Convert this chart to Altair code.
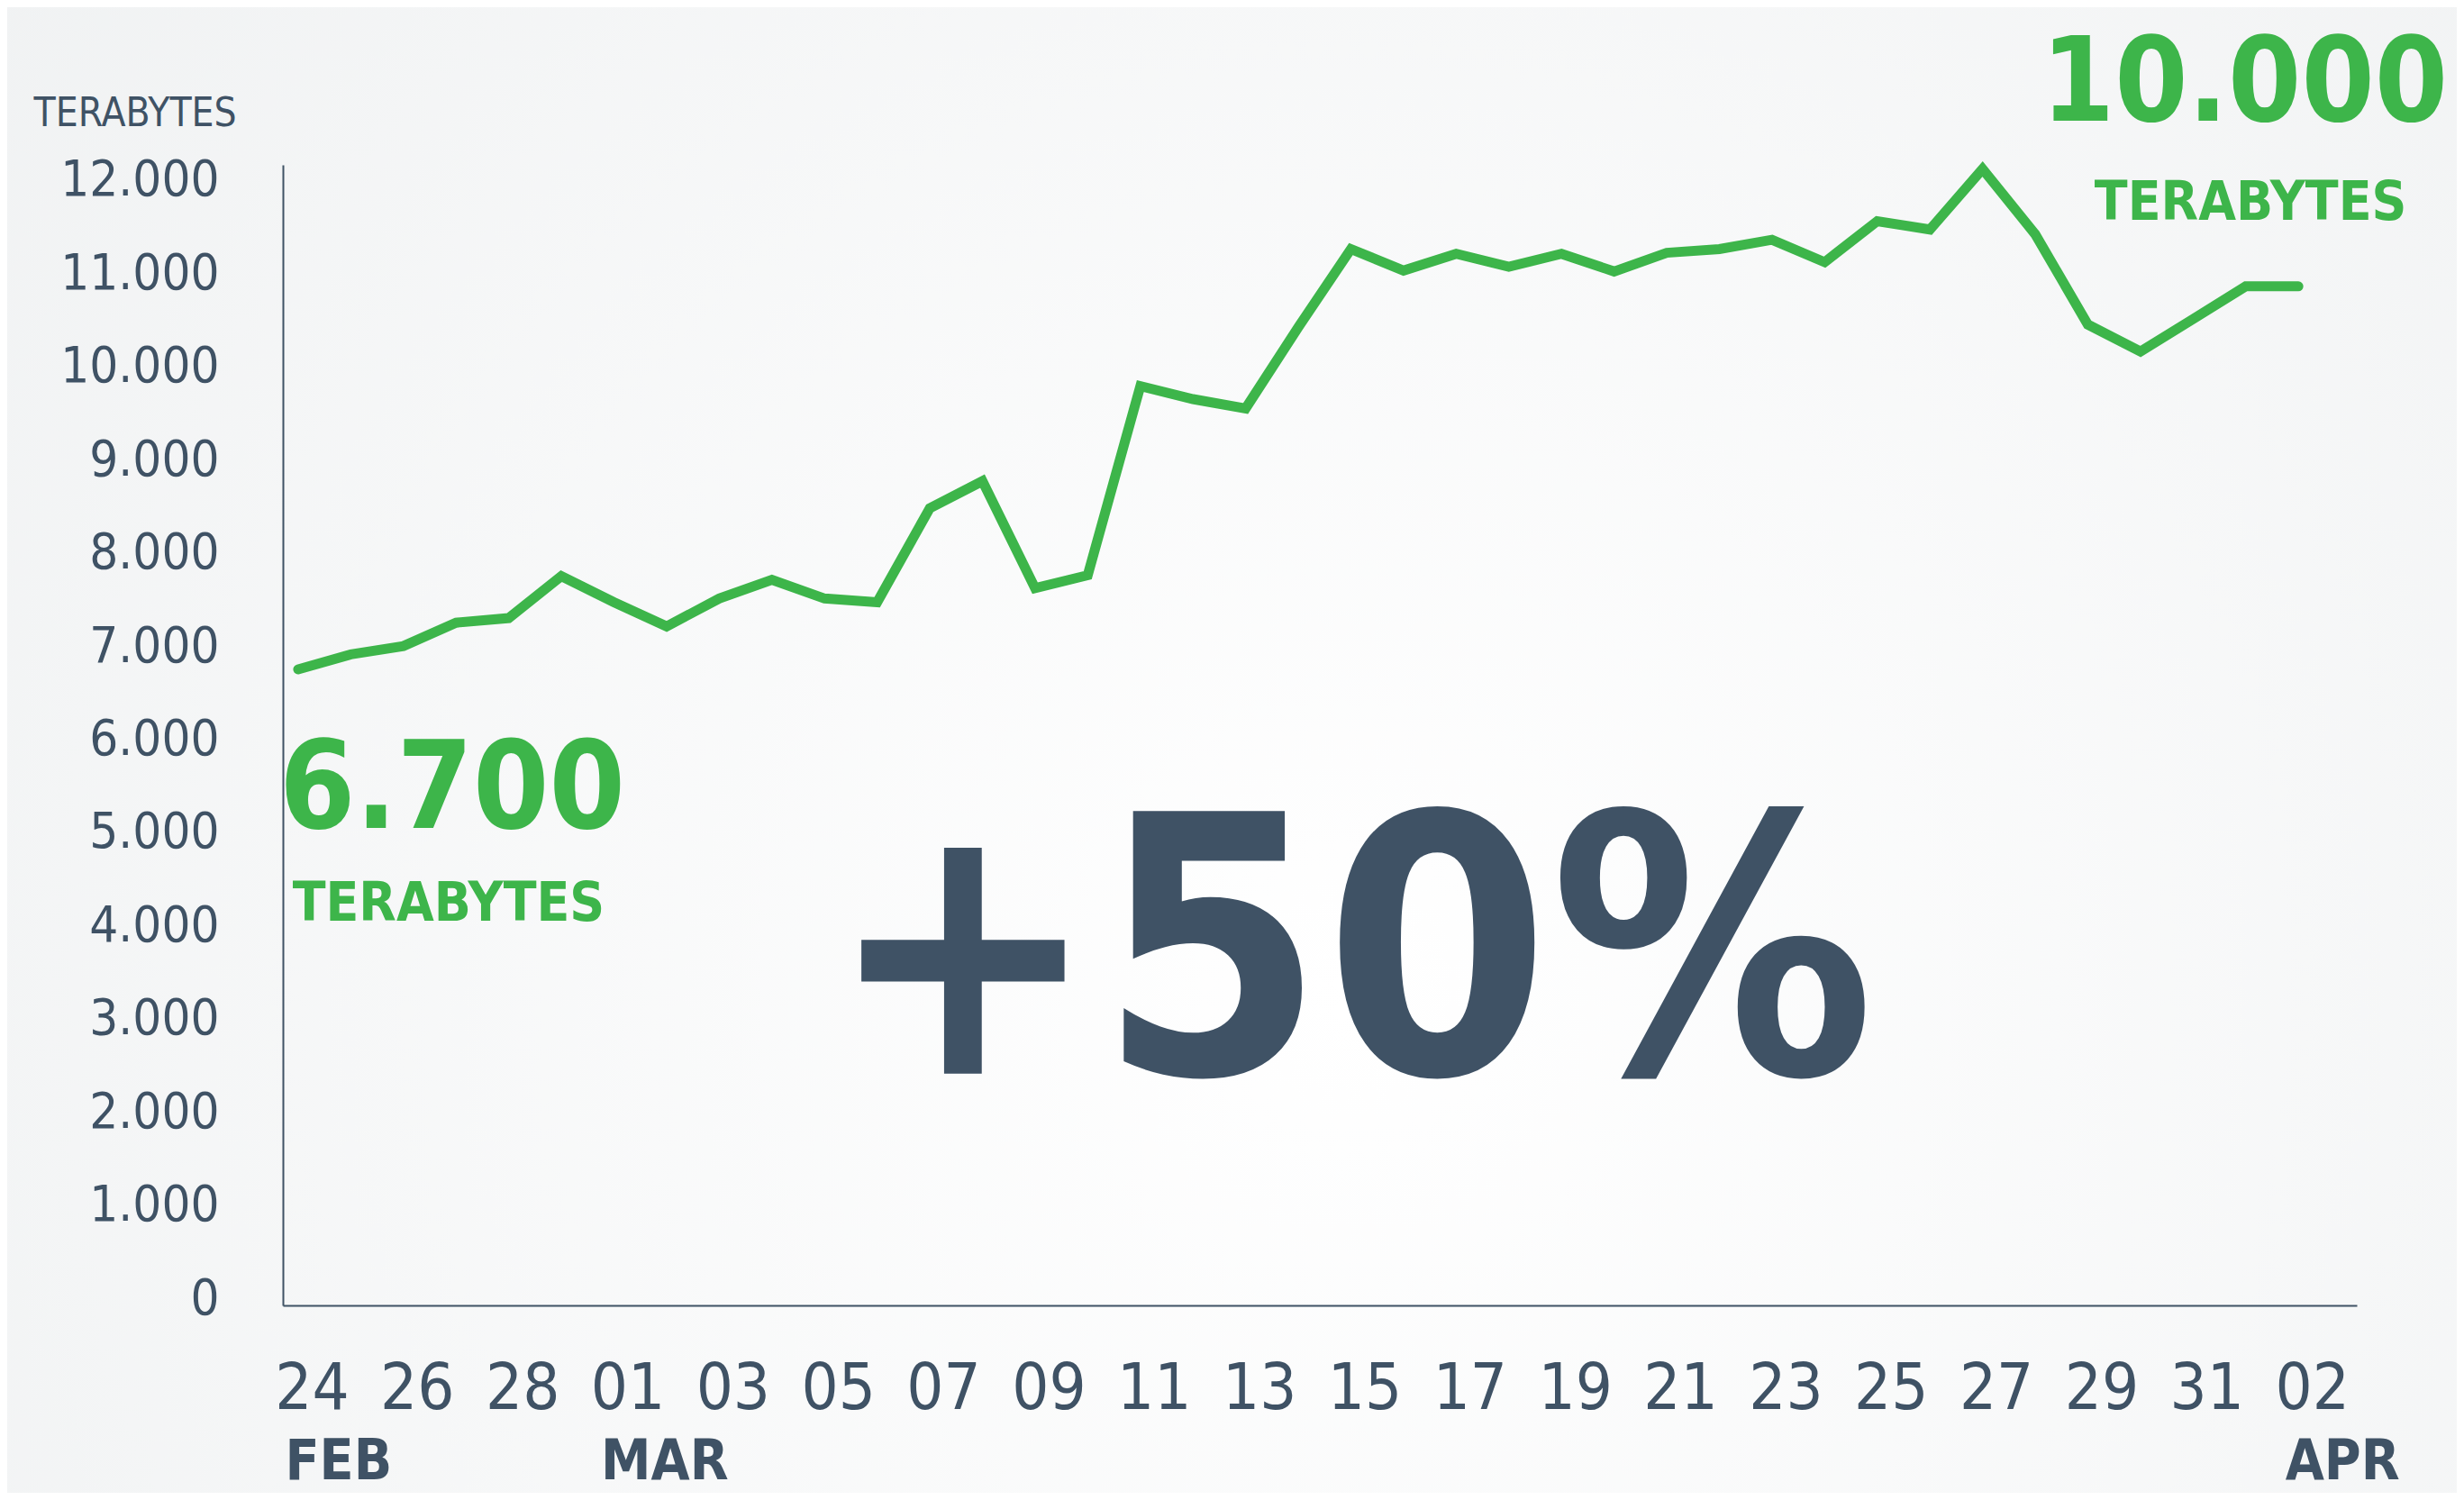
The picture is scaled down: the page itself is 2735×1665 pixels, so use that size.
import altair as alt
import pandas as pd

# ---------------- data ----------------
dates = pd.date_range("2020-02-24", "2020-04-02", freq="D").strftime("%Y-%m-%dT00:00:00").tolist()
values = [6750, 6910, 7000, 7250, 7300, 7750, 7470, 7210, 7510, 7710,
          7510, 7470, 8480, 8770, 7620, 7760, 9790, 9650, 9550, 10420,
          11260, 11030, 11210, 11070, 11210, 11020, 11220, 11260, 11360, 11120,
          11560, 11470, 12120, 11420, 10450, 10160, 10510, 10860, 10860]

day_ticks = [(2, 24), (2, 26), (2, 28), (3, 1), (3, 3), (3, 5), (3, 7), (3, 9),
             (3, 11), (3, 13), (3, 15), (3, 17), (3, 19), (3, 21), (3, 23),
             (3, 25), (3, 27), (3, 29), (3, 31), (4, 2)]
month_ticks = [(2, 24), (3, 1), (4, 2)]
y_ticks = [0, 1000, 2000, 3000, 4000, 5000, 6000, 7000, 8000, 9000, 10000, 11000, 12000]

ann_text = ["+50%", "6.700", "TERABYTES", "10.000", "TERABYTES"]
ann_date = ["2020-03-15T00:00:00", "2020-02-24T00:00:00", "2020-02-24T00:00:00",
            "2020-04-02T00:00:00", "2020-04-02T00:00:00"]
ann_value = [2410, 5050, 4050, 12640, 11570]

# ---------------- style ----------------
GREEN = "#3db54a"
SLATE = "#3f5265"
FONT = "'DejaVu Sans Condensed', 'Liberation Sans Narrow', sans-serif"

W, H = 2302, 1266
PAD = {"left": 306, "top": 175, "right": 111, "bottom": 208}

df = pd.DataFrame({"date": dates, "value": values})

xscale = alt.Scale(domain=[alt.DateTime(year=2020, month=2, date=23, hours=17, minutes=2),
                           alt.DateTime(year=2020, month=4, date=3, hours=2, minutes=38)])
yscale = alt.Scale(domain=[-77, 12164], nice=False, zero=False)

Y_AXIS = alt.Axis(
    values=y_ticks, labelExpr="replace(format(datum.value, ','), ',', '.')",
    title="TERABYTES", titleAngle=0, titleAlign="left", titleBaseline="alphabetic",
    titleX=-277, titleY=-44, titleFont=FONT, titleFontSize=44,
    titleFontWeight="normal", titleColor=SLATE, zindex=1,
    ticks=False, grid=False, labelFont=FONT, labelFontSize=56,
    labelColor=SLATE, labelPadding=71, labelOverlap=False, labelFlush=False,
    domainColor=SLATE, domainWidth=2)

def yenc():
    return alt.Y("value:Q", scale=yscale, axis=Y_AXIS)

bg = alt.Chart(alt.Data(values=[{"a": 1}])).mark_rect(
    color=alt.Gradient(
        gradient="radial",
        stops=[alt.GradientStop(color="#ffffff", offset=0),
               alt.GradientStop(color="#eef0f1", offset=1)],
        x1=0.55, y1=0.6, r1=0, x2=0.55, y2=0.6, r2=0.8)
).encode(x=alt.value(-PAD["left"]), x2=alt.value(W + PAD["right"]),
         y=alt.value(-PAD["top"]), y2=alt.value(H + PAD["bottom"]))

line = alt.Chart(df).mark_line(color=GREEN, strokeWidth=11, strokeCap="round").encode(
    x=alt.X("date:T", scale=xscale, axis=alt.Axis(
        values=[alt.DateTime(year=2020, month=m, date=d) for m, d in day_ticks],
        format="%d", title=None, ticks=False, grid=False, zindex=1,
        labelFont=FONT, labelFontSize=72, labelColor=SLATE, labelPadding=57,
        labelOffset=15, labelOverlap=False, labelFlush=False,
        domainColor=SLATE, domainWidth=2, orient="bottom")),
    y=yenc(),
)

months = alt.Chart(df).mark_point(opacity=0).encode(
    x=alt.X("date:T", scale=xscale, axis=alt.Axis(
        values=[alt.DateTime(year=2020, month=m, date=d) for m, d in month_ticks],
        labelExpr="upper(timeFormat(datum.value, '%b'))", title=None, ticks=False,
        grid=False, domain=False, zindex=1, labelFont=FONT, labelFontSize=62,
        labelFontWeight="bold", labelColor=SLATE, labelAlign="left",
        labelOffset=-15, labelPadding=143, labelOverlap=False, labelFlush=False,
        orient="bottom")),
    y=yenc(),
)

ann = pd.DataFrame({"text": ann_text, "date": ann_date, "value": ann_value})

def txt(i, size, color, dx, align="center"):
    return alt.Chart(ann.iloc[[i]]).mark_text(
        font=FONT, fontSize=size, fontWeight="bold", color=color,
        align=align, baseline="alphabetic", dx=dx
    ).encode(x=alt.X("date:T", scale=xscale), y=yenc(), text="text:N")

big = txt(0, 400, SLATE, 0)
left_num = txt(1, 135, GREEN, 171)
left_unit = txt(2, 60, GREEN, 167)
right_num = txt(3, 130, GREEN, 166, "right")
right_unit = txt(4, 60, GREEN, -53)

chart = alt.layer(bg, line, months, big, left_num, left_unit, right_num, right_unit).resolve_axis(
    x="independent"
).properties(
    width=W, height=H, padding=PAD, background="#f4f5f6",
    autosize=alt.AutoSizeParams(type="none")
).configure_view(stroke=None)

chart.save("out.html", embed_options={"renderer": "svg", "actions": False})
